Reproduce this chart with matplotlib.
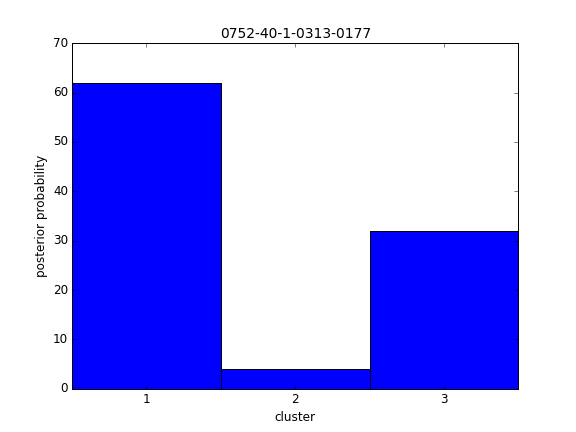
import matplotlib
matplotlib.use("Agg")
import matplotlib.pyplot as plt

plt.style.use('classic')

clusters = [1, 2, 3]
probabilities = [62, 4, 32]
tick_labels = ['1', '2', '3']

fig = plt.figure(figsize=(8, 6), dpi=72)
ax = fig.add_axes([0.125, 0.1, 0.775, 0.8])
ax.bar(clusters, probabilities, width=1.0, align='center', color='#0000ff', edgecolor='black')
ax.set_xlim(0.5, 3.5)
ax.set_ylim(0, 70)
ax.set_xticks(clusters)
ax.set_xticklabels(tick_labels)
ax.set_xlabel('cluster')
ax.set_ylabel('posterior probability')
ax.set_title('0752-40-1-0313-0177', fontsize=13.9)
fig.savefig('out.png', dpi=72, facecolor='white')
